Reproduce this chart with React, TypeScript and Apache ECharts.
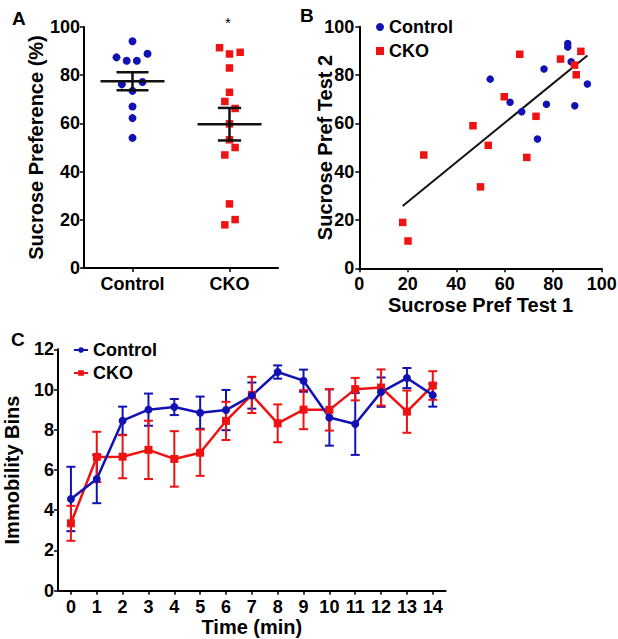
import React, { useEffect, useRef } from "react";
import * as echarts from "echarts";

// ---------- data ----------
const groups = ["Control", "CKO"];
// Sucrose preference test 1 (also panel A) and test 2
const controlTest1 = [94.1, 88.9, 87.4, 86.0, 86.0, 76.2, 77.2, 73.5, 67.0, 62.2, 54.0];
const controlTest2 = [76.3, 67.3, 85.5, 93.0, 91.6, 82.5, 67.9, 53.5, 64.8, 68.7, 78.3];
const ckoTest1 = [91.4, 89.5, 88.8, 83.0, 72.9, 69.1, 66.2, 59.8, 53.2, 50.0, 46.9, 26.6, 20.1, 17.9];
const ckoTest2 = [89.8, 80.1, 84.1, 86.6, 62.9, 45.9, 88.6, 71.0, 50.9, 33.7, 59.0, 46.9, 11.3, 19.0];
// horizontal scatter of the dot plot (fraction of a category)
const controlJitter = [0, 0.155, -0.165, -0.06, 0.045, -0.11, 0.103, 0, 0, 0, 0];
const ckoJitter = [-0.103, 0.11, 0, 0, 0, -0.048, 0.058, 0, 0, 0.058, -0.048, 0, 0.058, -0.048];

const minutes = ["0", "1", "2", "3", "4", "5", "6", "7", "8", "9", "10", "11", "12", "13", "14"];
const controlImmobility = [4.56, 5.55, 8.45, 9.0, 9.13, 8.85, 8.98, 9.7, 10.87, 10.44, 8.61, 8.29, 9.87, 10.57, 9.72];
const controlImmobilitySem = [1.6, 1.2, 0.7, 0.8, 0.4, 0.8, 1.0, 0.65, 0.33, 0.55, 1.4, 1.54, 0.73, 0.5, 0.57];
const ckoImmobility = [3.35, 6.65, 6.66, 7.0, 6.55, 6.86, 8.44, 9.73, 8.32, 9.0, 8.99, 10.02, 10.1, 8.9, 10.2];
const ckoImmobilitySem = [0.87, 1.25, 1.07, 1.45, 1.38, 1.15, 0.95, 0.9, 0.94, 0.97, 1.03, 0.56, 0.9, 1.05, 0.71];

// ---------- helpers ----------
const BLUE = "#1212b4";
const RED = "#ee1212";
const FONT = "'Liberation Sans', Arial, sans-serif";

function meanSem(v: number[]) {
  const n = v.length;
  const m = v.reduce((a, b) => a + b, 0) / n;
  const sd = Math.sqrt(v.reduce((a, b) => a + (b - m) ** 2, 0) / (n - 1));
  return [m, sd / Math.sqrt(n)];
}

function linearFit(xs: number[], ys: number[]) {
  const n = xs.length;
  const mx = xs.reduce((a, b) => a + b, 0) / n;
  const my = ys.reduce((a, b) => a + b, 0) / n;
  let sxy = 0, sxx = 0;
  for (let i = 0; i < n; i++) {
    sxy += (xs[i] - mx) * (ys[i] - my);
    sxx += (xs[i] - mx) ** 2;
  }
  const slope = sxy / sxx;
  return { slope, intercept: my - slope * mx };
}

const axisLine = { show: true, lineStyle: { color: "#000", width: 2 } };
const axisTick = { show: true, length: 4, lineStyle: { color: "#000", width: 1.5 } };
const labelStyle = { color: "#000", fontSize: 18, fontWeight: "bold" as const, fontFamily: FONT };
const nameStyle = { color: "#000", fontSize: 20, fontWeight: "bold" as const, fontFamily: FONT };

function errorBarRenderer(color: string) {
  return (params: any, api: any) => {
    const x = api.value(0);
    const m = api.value(1);
    const s = api.value(2);
    const top = api.coord([x, m + s]);
    const bot = api.coord([x, m - s]);
    const hw = 4.5;
    const style = { stroke: color, lineWidth: 2 };
    return {
      type: "group",
      children: [
        { type: "line", shape: { x1: top[0], y1: top[1], x2: bot[0], y2: bot[1] }, style },
        { type: "line", shape: { x1: top[0] - hw, y1: top[1], x2: top[0] + hw, y2: top[1] }, style },
        { type: "line", shape: { x1: bot[0] - hw, y1: bot[1], x2: bot[0] + hw, y2: bot[1] }, style },
      ],
    };
  };
}

export default function App() {
  const ref = useRef<HTMLDivElement>(null);

  useEffect(() => {
    if (!ref.current) return;
    const chart = echarts.init(ref.current, undefined, { renderer: "svg" });

    const [cMean, cSem] = meanSem(controlTest1);
    const [kMean, kSem] = meanSem(ckoTest1);
    const allX = [...controlTest1, ...ckoTest1];
    const allY = [...controlTest2, ...ckoTest2];
    const fit = linearFit(allX, allY);
    const xMin = Math.min(...allX);
    const xMax = Math.max(...allX);

    const option: any = {
      animation: false,
      textStyle: { fontFamily: FONT },
      grid: [
        { left: 84, top: 27, width: 194, height: 241, outerBoundsMode: "none", containLabel: false },
        { left: 359.3, top: 26.7, width: 242.4, height: 241.6, outerBoundsMode: "none", containLabel: false },
        { left: 58, top: 349.3, width: 387.7, height: 241.4, outerBoundsMode: "none", containLabel: false },
      ],
      xAxis: [
        {
          type: "category", gridIndex: 0, data: groups,
          axisLine, axisTick: { ...axisTick, alignWithLabel: true },
          axisLabel: { ...labelStyle, margin: 7 }, splitLine: { show: false },
        },
        { type: "value", gridIndex: 0, min: 0, max: 2, show: false },
        {
          type: "value", gridIndex: 1, min: 0, max: 100, interval: 20,
          axisLine, axisTick, axisLabel: { ...labelStyle, margin: 7 }, splitLine: { show: false },
          name: "Sucrose Pref Test 1", nameLocation: "middle", nameGap: 27, nameTextStyle: nameStyle,
          nameMoveOverlap: false,
        },
        {
          type: "category", gridIndex: 2, data: minutes, boundaryGap: true,
          axisLine, axisTick: { ...axisTick, alignWithLabel: true },
          axisLabel: { ...labelStyle, margin: 7, interval: 0 }, splitLine: { show: false },
          name: "Time (min)", nameLocation: "middle", nameGap: 26, nameTextStyle: nameStyle,
          nameMoveOverlap: false,
        },
      ],
      yAxis: [
        {
          type: "value", gridIndex: 0, min: 0, max: 100, interval: 20,
          axisLine, axisTick, axisLabel: { ...labelStyle, margin: 4 }, splitLine: { show: false },
          name: "Sucrose Preference (%)", nameLocation: "middle", nameGap: 38, nameTextStyle: nameStyle,
          nameMoveOverlap: false,
        },
        {
          type: "value", gridIndex: 1, min: 0, max: 100, interval: 20,
          axisLine, axisTick, axisLabel: { ...labelStyle, margin: 5 }, splitLine: { show: false },
          name: "Sucrose Pref Test 2", nameLocation: "middle", nameGap: 24, nameTextStyle: nameStyle,
          nameMoveOverlap: false,
        },
        {
          type: "value", gridIndex: 2, min: 0, max: 12, interval: 2,
          axisLine, axisTick, axisLabel: { ...labelStyle, margin: 4 }, splitLine: { show: false },
          name: "Immobility Bins", nameLocation: "middle", nameGap: 36, nameTextStyle: nameStyle,
          nameMoveOverlap: false,
        },
      ],
      legend: [
        {
          data: ["Control", "CKO"], orient: "vertical", left: 376, top: 18, padding: 0,
          itemWidth: 8, itemHeight: 8, itemGap: 6,
          textStyle: { ...labelStyle, lineHeight: 18 },
        },
        {
          data: ["C-Control", "C-CKO"], orient: "vertical", left: 73, top: 341, padding: 0,
          itemWidth: 14, itemHeight: 7, itemGap: 5,
          formatter: (n: string) => n.replace("C-", ""),
          textStyle: { ...labelStyle, lineHeight: 18 },
        },
      ],
      graphic: [
        { type: "text", left: 12, top: 9, style: { text: "A", fontSize: 19, fontWeight: "bold", fontFamily: FONT, fill: "#000" } },
        { type: "text", left: 300, top: 6, style: { text: "B", fontSize: 19, fontWeight: "bold", fontFamily: FONT, fill: "#000" } },
        { type: "text", left: 11, top: 330, style: { text: "C", fontSize: 19, fontWeight: "bold", fontFamily: FONT, fill: "#000" } },
        { type: "text", left: 225, top: 15, style: { text: "*", fontSize: 15, fontFamily: FONT, fill: "#000" } },
      ],
      series: [
        {
          name: "A-Control", type: "scatter", xAxisIndex: 1, yAxisIndex: 0,
          data: controlTest1.map((v, i) => [0.5 + controlJitter[i], v]),
          symbol: "circle", symbolSize: 8, itemStyle: { color: BLUE, opacity: 1 },
        },
        {
          name: "A-CKO", type: "scatter", xAxisIndex: 1, yAxisIndex: 0,
          data: ckoTest1.map((v, i) => [1.5 + ckoJitter[i], v]),
          symbol: "rect", symbolSize: 7.5, itemStyle: { color: RED, opacity: 1 },
        },
        {
          name: "A-mean", type: "custom", xAxisIndex: 1, yAxisIndex: 0, z: 5,
          data: [[0.5, cMean, cSem], [1.5, kMean, kSem]],
          renderItem: (params: any, api: any) => {
            const x = api.value(0), m = api.value(1), s = api.value(2);
            const capHalf = params.dataIndex === 0 ? 0.165 : 0.12;
            const meanHalf = 0.33;
            const ml = api.coord([x - meanHalf, m]), mr = api.coord([x + meanHalf, m]);
            const tl = api.coord([x - capHalf, m + s]), tr = api.coord([x + capHalf, m + s]);
            const bl = api.coord([x - capHalf, m - s]), br = api.coord([x + capHalf, m - s]);
            const style = { stroke: "#111", lineWidth: 2.5 };
            return {
              type: "group",
              children: [
                { type: "line", shape: { x1: ml[0], y1: ml[1], x2: mr[0], y2: mr[1] }, style },
                { type: "line", shape: { x1: tl[0], y1: tl[1], x2: tr[0], y2: tr[1] }, style },
                { type: "line", shape: { x1: bl[0], y1: bl[1], x2: br[0], y2: br[1] }, style },
                { type: "line", shape: { x1: (tl[0] + tr[0]) / 2, y1: tl[1], x2: (bl[0] + br[0]) / 2, y2: bl[1] }, style },
              ],
            };
          },
        },
        {
          name: "Control", type: "scatter", xAxisIndex: 2, yAxisIndex: 1,
          data: controlTest1.map((v, i) => [v, controlTest2[i]]),
          symbol: "circle", symbolSize: 7.5, itemStyle: { color: BLUE, opacity: 1 },
        },
        {
          name: "CKO", type: "scatter", xAxisIndex: 2, yAxisIndex: 1,
          data: ckoTest1.map((v, i) => [v, ckoTest2[i]]),
          symbol: "rect", symbolSize: 7.5, itemStyle: { color: RED, opacity: 1 },
        },
        {
          name: "fit", type: "line", xAxisIndex: 2, yAxisIndex: 1, z: 1,
          data: [[xMin, fit.intercept + fit.slope * xMin], [xMax, fit.intercept + fit.slope * xMax]],
          showSymbol: false, symbol: "none", lineStyle: { color: "#111", width: 2 },
        },
        {
          name: "C-Control-err", type: "custom", xAxisIndex: 3, yAxisIndex: 2,
          data: controlImmobility.map((v, i) => [i, v, controlImmobilitySem[i]]),
          renderItem: errorBarRenderer(BLUE), z: 2,
        },
        {
          name: "C-CKO-err", type: "custom", xAxisIndex: 3, yAxisIndex: 2,
          data: ckoImmobility.map((v, i) => [i, v, ckoImmobilitySem[i]]),
          renderItem: errorBarRenderer(RED), z: 2,
        },
        {
          name: "C-CKO", type: "line", xAxisIndex: 3, yAxisIndex: 2, data: ckoImmobility,
          symbol: "rect", symbolSize: 8, lineStyle: { color: RED, width: 2.5 },
          itemStyle: { color: RED }, z: 3,
        },
        {
          name: "C-Control", type: "line", xAxisIndex: 3, yAxisIndex: 2, data: controlImmobility,
          symbol: "circle", symbolSize: 8, lineStyle: { color: BLUE, width: 2.5 },
          itemStyle: { color: BLUE }, z: 3,
        },
      ],
    };

    chart.setOption(option);
    return () => chart.dispose();
  }, []);

  return (
    <div
      ref={ref}
      style={{ position: "fixed", left: 0, top: 0, width: 618, height: 639, background: "#fff" }}
    />
  );
}
